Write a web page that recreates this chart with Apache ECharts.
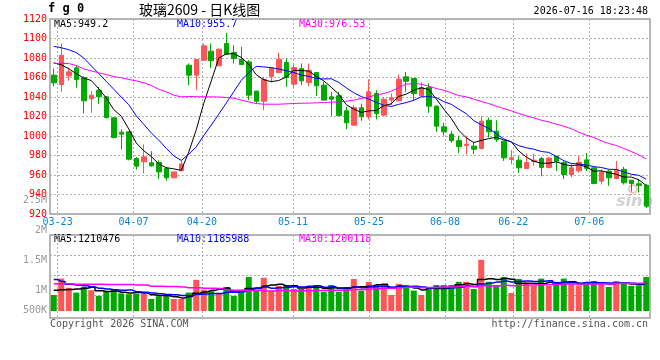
<!DOCTYPE html>
<html><head><meta charset="utf-8">
<script src="https://cdn.jsdelivr.net/npm/echarts@6/dist/echarts.min.js"></script>
<style>html,body{margin:0;padding:0;background:#fff}#c{width:660px;height:360px}</style>
</head><body><div id="c"></div>
<script>
// ---------- data ----------
const dates = ['03-20','03-23','03-24','03-25','03-26','03-27','03-30','03-31','04-01','04-02','04-03','04-07','04-08','04-09','04-10','04-13','04-14','04-15','04-16','04-17','04-20','04-21','04-22','04-23','04-24','04-27','04-28','04-29','04-30','05-06','05-07','05-08','05-11','05-12','05-13','05-14','05-15','05-18','05-19','05-20','05-21','05-22','05-25','05-26','05-27','05-28','05-29','06-01','06-02','06-03','06-04','06-05','06-08','06-09','06-10','06-11','06-12','06-15','06-16','06-17','06-18','06-22','06-23','06-24','06-25','06-26','06-29','06-30','07-01','07-02','07-03','07-06','07-07','07-08','07-09','07-10','07-13','07-14','07-15','07-16'];
const labelDates = ['03-23','04-07','04-20','05-11','05-25','06-08','06-22','07-06'];

const open = [1062.4,1052.8,1061.7,1069.9,1059.7,1038.1,1047.0,1040.2,1018.6,1003.9,
1004.3,976.9,973.5,972.5,972.8,966.7,957.1,964.3,1072.6,1062.4,
1077.8,1087.0,1072.0,1094.9,1085.6,1078.5,1076.0,1046.0,1035.7,1060.7,
1065.1,1075.4,1053.2,1069.2,1054.9,1065.1,1052.1,1040.2,1041.2,1025.8,
1011.1,1028.9,1019.7,1043.6,1021.4,1036.8,1036.1,1060.7,1059.0,1041.2,
1049.7,1030.6,1009.4,1001.9,995.2,990.3,989.6,987.2,1016.2,1005.0,
994.7,975.9,975.2,966.7,973.7,976.9,967.6,979.3,972.6,960.5,
964.3,975.5,967.4,953.7,963.9,956.4,965.8,954.7,951.0,949.5];
const close = [1054.5,1082.9,1065.8,1058.0,1036.1,1041.9,1040.2,1019.0,998.5,1001.9,
976.2,969.1,978.6,969.4,963.2,957.1,963.2,971.3,1062.4,1078.5,
1092.5,1077.1,1089.0,1083.9,1079.5,1073.3,1041.9,1035.7,1058.0,1069.9,
1078.8,1060.0,1070.3,1056.6,1067.5,1051.5,1036.8,1037.8,1020.9,1013.5,
1029.2,1019.7,1045.3,1023.1,1037.8,1039.2,1058.3,1056.2,1043.6,1049.7,
1030.6,1010.1,1004.3,995.2,989.1,991.6,986.5,1015.2,1004.3,996.4,
977.6,977.6,967.4,972.8,975.2,967.7,977.4,974.2,960.5,967.4,
972.8,966.9,951.3,963.2,957.1,965.7,952.0,951.3,949.4,928.0];
const low = [1051.1,1045.3,1056.6,1049.7,1023.1,1023.8,1032.6,1018.0,997.5,986.2,
975.0,965.5,961.5,968.4,955.7,954.0,957.0,964.0,1052.1,1047.0,
1077.0,1069.9,1072.0,1083.5,1074.4,1073.0,1036.8,1033.0,1026.5,1054.9,
1065.0,1050.4,1049.7,1052.1,1051.1,1041.2,1036.5,1020.7,1020.5,1007.0,
1011.0,1015.6,1017.0,1017.0,1020.7,1031.6,1036.0,1045.3,1036.1,1040.0,
1023.8,1004.3,1000.4,993.0,982.6,981.0,981.3,986.0,998.5,994.0,
974.5,971.0,962.2,966.0,969.5,958.7,967.0,964.0,955.7,957.7,
962.2,964.0,950.5,950.3,948.9,955.7,950.2,943.0,942.0,926.3];
const high = [1069.2,1094.9,1070.3,1073.0,1061.0,1046.0,1050.4,1041.0,1019.0,1007.0,
1005.0,978.5,991.3,984.4,975.0,968.4,963.5,974.5,1074.4,1079.0,
1094.9,1094.9,1089.7,1105.8,1093.2,1091.5,1077.8,1046.5,1060.7,1070.3,
1085.3,1079.5,1074.4,1074.4,1074.4,1065.5,1055.6,1045.3,1045.3,1029.9,
1031.6,1033.3,1058.0,1047.0,1040.2,1043.6,1063.1,1065.8,1059.5,1054.9,
1054.0,1031.6,1013.5,1005.3,1000.3,1000.3,993.6,1020.3,1019.0,1016.2,
995.0,985.5,979.3,982.0,982.0,978.6,978.0,979.5,974.2,971.3,
979.3,982.5,967.5,966.0,965.8,974.2,968.5,954.7,956.0,950.5];

const ma5 = [1075,1073,1069,1064,1059.5,1056.9,1048.4,1039,1027.1,1020.3,
1007.2,992.9,984.9,979,971.3,967.5,966.3,964.8,983.4,1006.5,
1033.6,1056.4,1079.9,1084.2,1084.4,1080.6,1073.5,1062.9,1057.7,1055.8,
1056.9,1060.5,1067.4,1067.1,1066.6,1061.2,1056.5,1050,1042.9,1032.1,
1027.6,1024.2,1025.7,1026.2,1031,1033,1040.7,1042.9,1047,1049.4,
1047.7,1038,1027.7,1018,1005.9,998.1,993.3,995.5,997.3,998.8,
996,994.2,984.7,978.4,974.1,972.1,972.1,973.5,971,969.4,
970.5,968.4,963.8,964.3,962.3,960.8,957.9,957.9,955.1,949.2];
const ma10 = [1092,1090.5,1088.5,1085.5,1080,1072,1064,1056,1048,1039.9,
1032.1,1020.7,1012,1003.1,995.8,987.3,979.6,974.9,981.2,988.9,
1000.5,1011.3,1022.4,1033.8,1045.5,1057.1,1064.9,1071.4,1070.9,1070.1,
1068.7,1067,1065.1,1062.4,1061.2,1059,1058.5,1058.7,1055,1049.4,
1044.4,1040.4,1037.9,1034.5,1031.6,1030.3,1032.5,1034.3,1036.6,1040.2,
1040.4,1039.4,1035.3,1032.5,1027.6,1022.9,1015.7,1011.6,1007.7,1002.3,
997,993.8,990.1,987.9,986.5,984.1,983.2,979.1,974.7,971.8,
971.3,970.2,968.6,967.7,965.9,965.7,963.1,960.8,959.7,955.7];
const ma30 = [1074.5,1074.5,1074.3,1072.3,1068.8,1066.8,1064.8,1063.1,1061.0,1059.7,
1058.0,1056.6,1054.5,1051.8,1048.0,1045.3,1041.9,1040.2,1040.5,1040.3,
1040.2,1040.2,1040.0,1039.5,1038.8,1036.8,1035.0,1033.3,1032.6,1032.6,
1032.6,1033.0,1033.3,1033.7,1033.7,1034.0,1034.4,1034.7,1035.0,1035.7,
1036.8,1038.5,1040.2,1041.9,1043.6,1046.0,1049.7,1053.2,1053.8,1053.2,
1051.1,1048.7,1047.0,1044.3,1041.5,1040.2,1037.8,1035.4,1033.3,1030.6,
1028.2,1025.8,1023.1,1020.7,1018.6,1016.2,1014.5,1012.1,1010.1,1007.4,
1003.9,1000.9,998.5,995.0,992.3,990.3,987.2,984.1,980.7,976.5];

const volume = [900000,1310000,1080000,960000,1100000,1020000,880000,980000,1030000,940000,
920000,930000,930000,800000,870000,870000,800000,800000,960000,1280000,
1030000,1010000,940000,1100000,880000,1030000,1350000,1030000,1330000,1000000,
1130000,1150000,1050000,1050000,1080000,1150000,980000,1150000,980000,1080000,
1300000,1010000,1230000,1150000,1150000,900000,1180000,1150000,1010000,900000,
1100000,1150000,1150000,1150000,1230000,1230000,1050000,1780000,1230000,1150000,
1350000,950000,1300000,1210000,1130000,1310000,1130000,1230000,1310000,1170000,
1140000,1190000,1250000,1190000,1100000,1250000,1190000,1130000,1140000,1350000];
const volMa5 = [1020000,1030000,1040000,1050000,1070000,1094000,1008000,988000,1002000,970000,
950000,960000,950000,904000,890000,880000,854000,828000,860000,942000,
974000,1016000,1044000,1072000,992000,992000,1060000,1078000,1124000,1148000,
1168000,1128000,1132000,1076000,1092000,1096000,1062000,1082000,1068000,1068000,
1098000,1104000,1120000,1154000,1168000,1088000,1122000,1106000,1078000,1028000,
1068000,1062000,1062000,1090000,1156000,1182000,1162000,1288000,1304000,1288000,
1312000,1292000,1196000,1192000,1188000,1180000,1216000,1202000,1222000,1230000,
1196000,1208000,1212000,1188000,1174000,1196000,1196000,1172000,1162000,1210476];
const volMa10 = [1290000,1240000,1170000,1150000,1130000,1100000,1070000,1050000,1030000,1020000,
1022000,984000,969000,953000,930000,915000,907000,889000,882000,916000,
927000,935000,936000,966000,967000,983000,1038000,1061000,1098000,1070000,
1080000,1094000,1105000,1100000,1120000,1132000,1095000,1107000,1072000,1080000,
1097000,1083000,1101000,1111000,1118000,1093000,1113000,1113000,1116000,1098000,
1078000,1092000,1084000,1084000,1092000,1125000,1112000,1175000,1197000,1222000,
1247000,1227000,1242000,1248000,1238000,1246000,1254000,1199000,1207000,1209000,
1188000,1212000,1207000,1205000,1202000,1196000,1202000,1192000,1175000,1185988];
const volMa30 = [1180000,1180000,1180000,1170000,1170000,1170000,1170000,1160000,1160000,1160000,
1160000,1150000,1150000,1120000,1120000,1110000,1110000,1100000,1080000,1080000,
1070000,1070000,1060000,1030000,1020000,1020000,1010000,1010000,1000000,1002000,
1010000,1004000,1003000,1006000,1006000,1010000,1013000,1019000,1017000,1022000,
1035000,1037000,1047000,1059000,1068000,1069000,1082000,1094000,1095000,1083000,
1085000,1090000,1097000,1098000,1110000,1117000,1107000,1132000,1128000,1133000,
1141000,1134000,1142000,1148000,1149000,1155000,1160000,1162000,1173000,1176000,
1171000,1177000,1178000,1179000,1177000,1189000,1189000,1189000,1193000,1200118];

const priceTicks = {min: 920, max: 1120, step: 20};
const volTicks = {min: 500000, max: 2500000, step: 500000};
const headerTitle = '玻璃2609 - 日K线图';
const headerCode = 'f g 0';
const headerTime = '2026-07-16 18:23:48';
const priceMaLabels = ['MA5:949.2', 'MA10:955.7', 'MA30:976.53'];
const volMaLabels = ['MA5:1210476', 'MA10:1185988', 'MA30:1200118'];

// ---------- styles ----------
const RED = '#ff5555', GREEN = '#00a800';
const MONO = '"DejaVu Sans Mono", "Liberation Mono", monospace';
const GRIDC = '#b0b0b0';
const FRAME = '#a0a0a0';
const maColors = ['#000000', '#0000ff', '#ff00ff'];

const kData = open.map((o, i) => [o, close[i], low[i], high[i]]);
const volData = volume.map((v, i) => ({value: v, itemStyle: {color: close[i] >= open[i] ? RED : GREEN}}));
const isLabel = (idx, val) => labelDates.indexOf(val) >= 0;

const chart = echarts.init(document.getElementById('c'), null, {renderer: 'canvas'});
const volFmt = v => v >= 1e6 ? (v / 1e6) + 'M' : (v / 1e3) + 'K';

const option = {
  animation: false,
  backgroundColor: '#fff',
  grid: [
    {left: 50, top: 19, width: 600, height: 195, show: true, borderColor: FRAME, borderWidth: 1.5, backgroundColor: 'transparent'},
    {left: 50, top: 235, width: 600, height: 76},
    {left: 50, top: 235, width: 600, height: 83, show: true, borderColor: FRAME, borderWidth: 1.5, backgroundColor: 'transparent'},
    {left: 50, top: 200, width: 600, height: 120}
  ],
  xAxis: [
    {type: 'category', gridIndex: 0, position: 'top', data: dates, boundaryGap: true, show: false},
    {type: 'category', gridIndex: 0, position: 'bottom', data: dates, boundaryGap: false,
      axisLine: {show: false}, axisTick: {show: false},
      axisLabel: {interval: isLabel, color: '#0a84d8', fontFamily: MONO, fontSize: 10, margin: 3},
      splitLine: {show: true, interval: isLabel, lineStyle: {color: GRIDC, type: [2, 2], width: 1}}},
    {type: 'category', gridIndex: 1, data: dates, boundaryGap: true, show: false},
    {type: 'category', gridIndex: 2, data: dates, boundaryGap: false,
      axisLine: {show: false}, axisTick: {show: false}, axisLabel: {show: false},
      splitLine: {show: true, interval: isLabel, lineStyle: {color: GRIDC, type: [2, 2], width: 1}}},
    {type: 'category', gridIndex: 3, data: dates, show: false}
  ],
  yAxis: [
    {type: 'value', gridIndex: 0, min: priceTicks.min, max: priceTicks.max, interval: priceTicks.step,
      axisLine: {show: false}, axisTick: {show: false},
      axisLabel: {color: '#ff0000', fontFamily: MONO, fontSize: 10, margin: 3, padding: [0, 0, 6, 0], formatter: v => String(v)},
      splitLine: {show: true, lineStyle: {color: GRIDC, type: [2, 2], width: 1}}},
    {type: 'value', gridIndex: 1, min: 500000, max: 2400000, show: false, splitLine: {show: false}},
    {type: 'value', gridIndex: 2, min: 0, max: 83, interval: 20, inverse: true,
      axisLine: {show: false}, axisTick: {show: false}, axisLabel: {show: false},
      splitLine: {show: true, lineStyle: {color: [GRIDC, GRIDC, GRIDC, GRIDC, 'rgba(0,0,0,0)', 'rgba(0,0,0,0)'], type: [2, 2], width: 1}}},
    {type: 'value', gridIndex: 3, min: volTicks.min, max: volTicks.max, interval: volTicks.step,
      axisLine: {show: false}, axisTick: {show: false}, splitLine: {show: false},
      axisLabel: {color: '#999999', fontFamily: MONO, fontSize: 10, margin: 3,
        formatter: v => v === volTicks.min ? '{lift|' + volFmt(v) + '}' : volFmt(v),
        rich: {lift: {color: '#999999', fontFamily: MONO, fontSize: 10, padding: [0, 0, 20, 0]}}}}
  ],
  series: [
    {type: 'candlestick', xAxisIndex: 0, yAxisIndex: 0, data: kData, barWidth: 5,
      itemStyle: {color: RED, color0: GREEN, borderColor: RED, borderColor0: GREEN, borderWidth: 1}},
    {type: 'line', xAxisIndex: 0, yAxisIndex: 0, data: ma5, symbol: 'none', lineStyle: {color: maColors[0], width: 1}, z: 5},
    {type: 'line', xAxisIndex: 0, yAxisIndex: 0, data: ma10, symbol: 'none', lineStyle: {color: maColors[1], width: 1}, z: 5},
    {type: 'line', xAxisIndex: 0, yAxisIndex: 0, data: ma30, symbol: 'none', lineStyle: {color: maColors[2], width: 1}, z: 5},
    {type: 'bar', xAxisIndex: 2, yAxisIndex: 1, data: volData, barWidth: 6},
    {type: 'line', xAxisIndex: 2, yAxisIndex: 1, data: volMa5, symbol: 'none', step: 'middle', lineStyle: {color: maColors[0], width: 1.5}, z: 5},
    {type: 'line', xAxisIndex: 2, yAxisIndex: 1, data: volMa10, symbol: 'none', step: 'middle', lineStyle: {color: maColors[1], width: 1.5}, z: 5},
    {type: 'line', xAxisIndex: 2, yAxisIndex: 1, data: volMa30, symbol: 'none', step: 'middle', lineStyle: {color: maColors[2], width: 1.5}, z: 5},
    {type: 'line', xAxisIndex: 1, yAxisIndex: 0, data: [], silent: true},
    {type: 'line', xAxisIndex: 3, yAxisIndex: 2, data: [], silent: true},
    {type: 'line', xAxisIndex: 4, yAxisIndex: 3, data: [], silent: true}
  ],
  graphic: [
    {type: 'text', left: 48, top: 3, style: {text: headerCode, font: 'bold 12px ' + MONO, fill: '#000'}},
    {type: 'text', left: 139, top: 3, style: {text: headerTitle, font: '14px "Noto Sans CJK SC", sans-serif', fill: '#000'}},
    {type: 'text', right: 12, top: 6, style: {text: headerTime, font: '10px ' + MONO, fill: '#000'}},
    {type: 'text', left: 54, top: 19, style: {text: priceMaLabels[0], font: '10px ' + MONO, fill: maColors[0]}},
    {type: 'text', left: 177, top: 19, style: {text: priceMaLabels[1], font: '10px ' + MONO, fill: maColors[1]}},
    {type: 'text', left: 299, top: 19, style: {text: priceMaLabels[2], font: '10px ' + MONO, fill: maColors[2]}},
    {type: 'text', left: 54, top: 234, style: {text: volMaLabels[0], font: '10px ' + MONO, fill: maColors[0]}},
    {type: 'text', left: 177, top: 234, style: {text: volMaLabels[1], font: '10px ' + MONO, fill: maColors[1]}},
    {type: 'text', left: 299, top: 234, style: {text: volMaLabels[2], font: '10px ' + MONO, fill: maColors[2]}},
    {type: 'text', left: 50, top: 319, style: {text: 'Copyright 2026 SINA.COM', font: '10px ' + MONO, fill: '#555'}},
    {type: 'text', right: 12, top: 319, style: {text: 'http://finance.sina.com.cn', font: '10px ' + MONO, fill: '#555'}},
    {type: 'circle', z: -1, shape: {cx: 633, cy: 189, r: 4}, style: {stroke: '#f2c2c2', fill: 'none', lineWidth: 2}},
    {type: 'text', z: -1, left: 616, top: 194, style: {text: 'sina', font: 'italic bold 16px "DejaVu Sans", sans-serif', fill: '#d2d2d2'}}
  ]
};
chart.setOption(option);
</script>
</body></html>
